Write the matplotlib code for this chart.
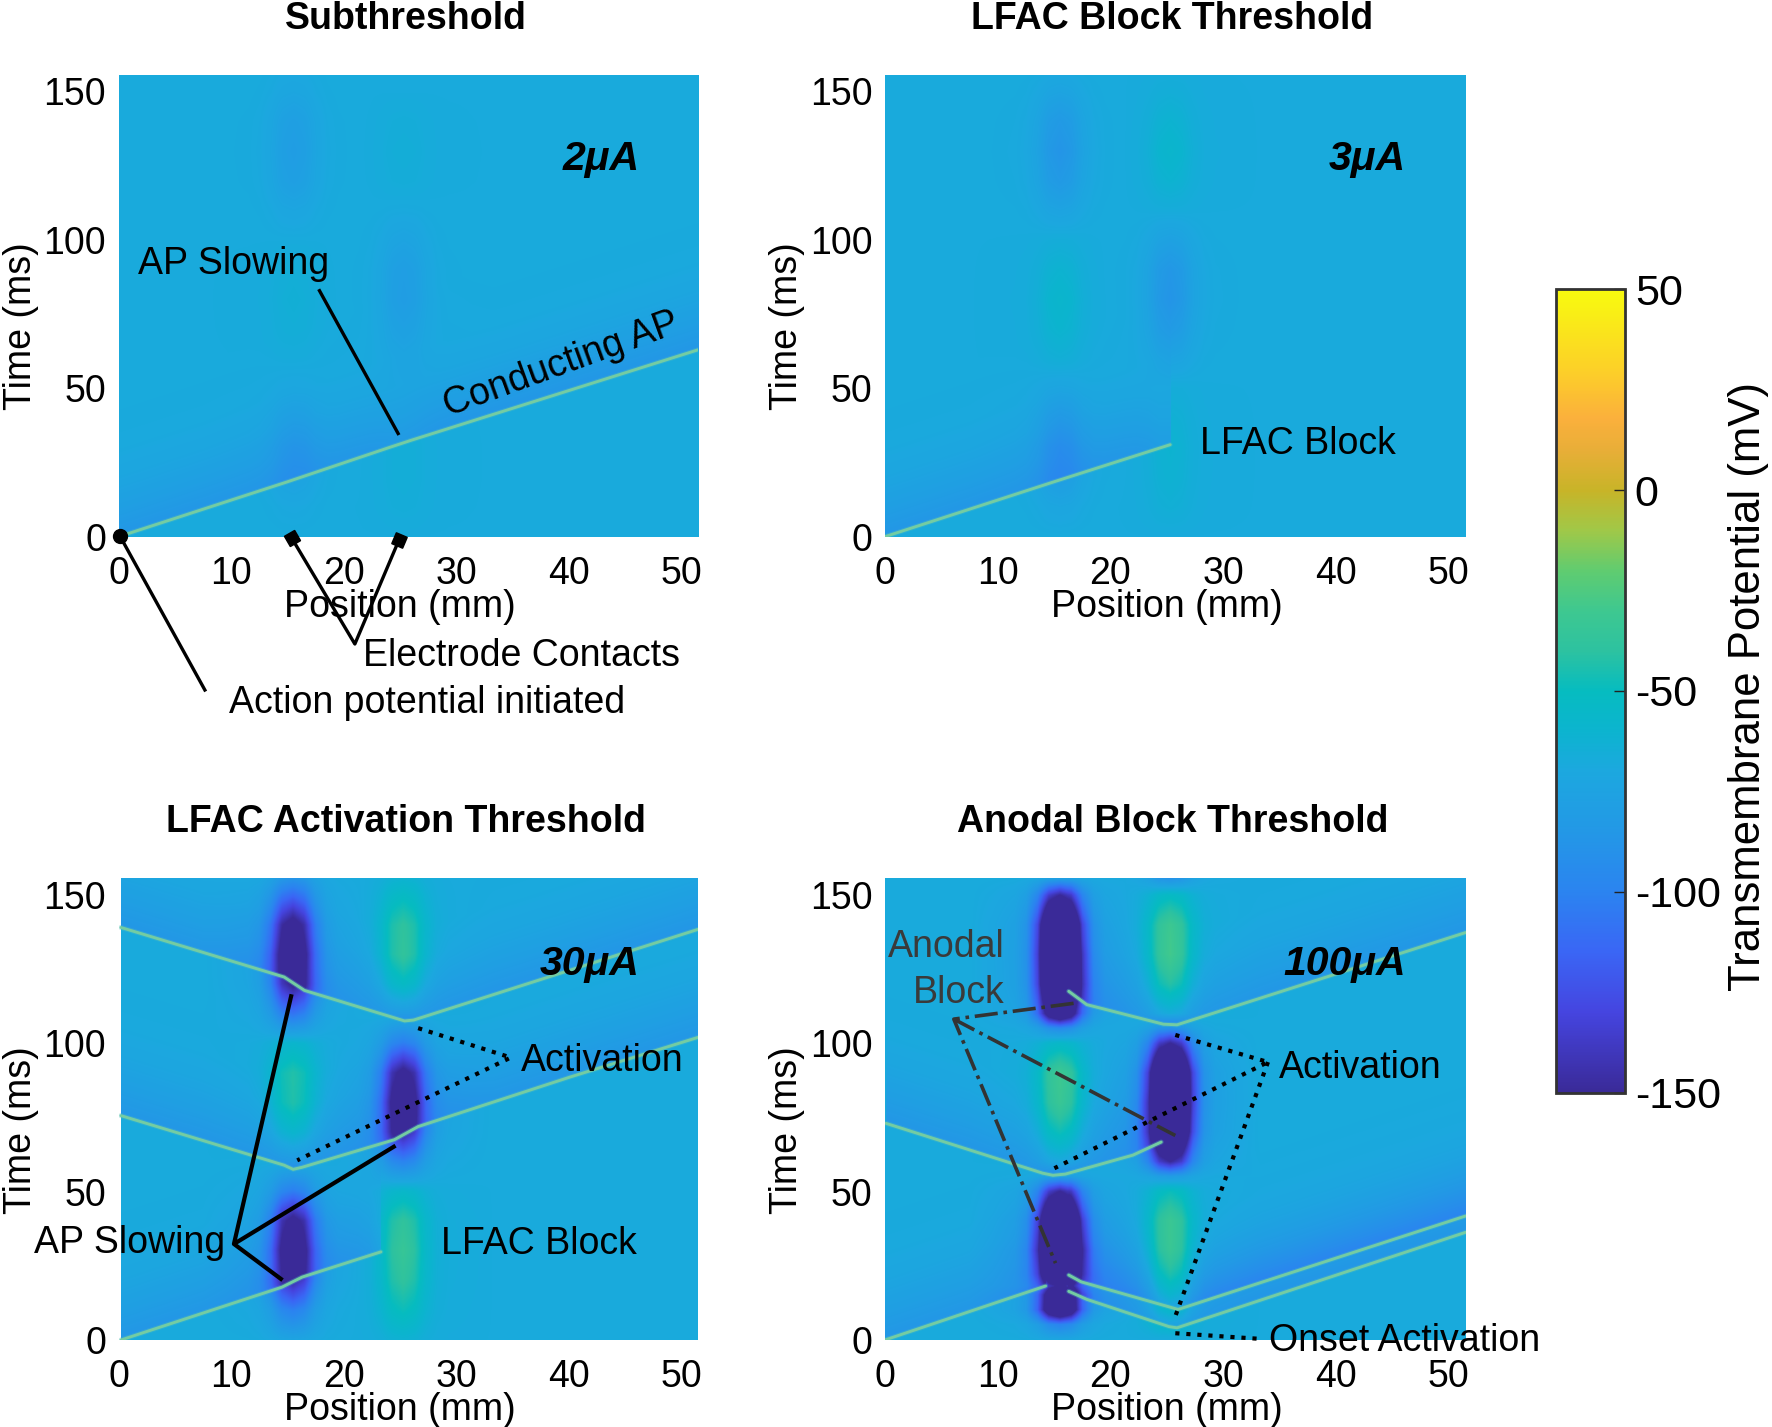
import numpy as np
import matplotlib
matplotlib.use("Agg")
import matplotlib.pyplot as plt
from matplotlib.colors import LinearSegmentedColormap, Normalize

plt.rcParams['font.family'] = ['Liberation Sans', 'DejaVu Sans']

# ---------- values ----------
titles = ["Subthreshold", "LFAC Block Threshold", "LFAC Activation Threshold", "Anodal Block Threshold"]
currents = ["2μA", "3μA", "30μA", "100μA"]
x_ticks = [0, 10, 20, 30, 40, 50]
y_ticks = [0, 50, 100, 150]
cbar_ticks = [-150, -100, -50, 0, 50]
contact_1_mm = 15.5
contact_2_mm = 25.3
rest_mv = -68

# colour scale
cbar_levels = [-150, -130, -115, -100, -85, -70, -60, -50, -40, -30, -20, -10, 0, 10, 18, 30, 50]
cbar_colors = ['#3a2a98', '#4545e0', '#3a66f5', '#2b84f0', '#2398e6', '#1ca8df', '#0cb4cf', '#06bcc0',
               '#2dc2a0', '#3ec890', '#60cc70', '#a0c848', '#c8b428', '#e8ae38', '#fbb03c', '#fcd028', '#f8fb0e']

# share of the contact's potential change left at a distance from it
falloff_mm = [0, 1, 2, 3, 4, 6, 8]
falloff_share = [1.0, 0.82, 0.36, 0.12, 0.05, 0.02, 0.0]

# added potential after an action potential passes
ahp_ms = [0, 5, 10, 20, 30, 50]
ahp_mv = [-18, -14, -10, -4, -1, 0]

# potential under each contact against time
t_knots_a = [0, 10, 20, 30, 40, 50, 60, 70, 80, 90, 100, 110, 120, 130, 140, 150, 156]
sub_c1 = [-68, -70, -75, -78, -75, -70, -67, -65, -64, -65, -68, -72, -78, -80, -78, -72, -70]
sub_c2 = [-68, -66, -65, -65, -66, -68, -72, -76, -80, -79, -74, -69, -66, -65, -66, -68, -68]
blk_c1 = [-68, -72, -80, -84, -80, -72, -64, -60, -58, -61, -66, -74, -83, -87, -83, -74, -70]
blk_c2 = [-68, -64, -62, -61, -63, -66, -74, -82, -87, -85, -76, -67, -61, -58, -61, -65, -67]
act_c1 = [-74, -102, -148, -165, -155, -102, -66, -50, -40, -42, -58, -108, -155, -168, -158, -112, -85]
act_c2 = [-62, -48, -38, -34, -38, -56, -100, -150, -165, -155, -102, -64, -44, -34, -38, -52, -62]
t_knots_b = [0, 5, 10, 15, 18, 22, 30, 40, 50, 55, 60, 70, 80, 90, 100, 105, 110, 120, 130, 140, 150, 156]
ano_c1 = [-72, -100, -200, -195, -155, -205, -250, -235, -150, -78, -55, -40, -30, -30, -55, -95, -190, -240, -250, -235, -150, -72]
ano_c2 = [-68, -55, -42, -35, -32, -29, -26, -30, -48, -80, -150, -230, -250, -240, -150, -90, -52, -34, -26, -30, -52, -92]

# action potential traces: position (mm), time (ms)
sub_traces = [([0, 15, 24, 26, 51.5], [0, 18.5, 30, 32.5, 63])]
blk_traces = [([0, 15, 25.3], [0, 18.5, 31])]
act_traces = [([0.2, 14.5, 16.3, 23.3], [0, 17.8, 21.2, 29.7]),
              ([0.2, 14.7, 15.5, 16.3, 24.5, 26.6, 40.1, 51.5], [75.6, 58.9, 57.5, 58.2, 67.5, 71.9, 88.6, 102]),
              ([0.2, 14.7, 16.5, 25.4, 26.2, 51.5], [139, 122.3, 117.8, 107.5, 107.8, 138.4])]
ano_traces = [([0, 14.25], [0, 18.2]),
              ([16.3, 17.9, 25.2, 25.9, 51.5], [16.4, 13.7, 4.5, 4.1, 36.3]),
              ([16.3, 17.4, 26, 51.5], [21.9, 19.6, 10.3, 41.8]),
              ([0.1, 14, 14.9, 16, 22, 24.5], [73, 56.2, 55.5, 55.9, 62.3, 66.7]),
              ([16.3, 17.9, 24.7, 25.9, 51.5], [117.5, 113, 106.4, 106.2, 137.3])]

panels = [(t_knots_a, sub_c1, sub_c2, sub_traces),
          (t_knots_a, blk_c1, blk_c2, blk_traces),
          (t_knots_a, act_c1, act_c2, act_traces),
          (t_knots_b, ano_c1, ano_c2, ano_traces)]

# ---------- layout ----------
W, H = 1772, 1427
SX, SY = W / 1568, H / 1263
XMAX, YMAX = 51.5, 155.7
boxes = [(105, 66, 618, 475), (783, 66, 1297, 475), (105, 777, 618, 1186), (783, 777, 1297, 1186)]
image_left = [0, 0, 0.25, 0]
FS = 27

fig = plt.figure(figsize=(W / 100, H / 100), dpi=100, facecolor='white')
cmap = LinearSegmentedColormap.from_list(
    'cb', [((v + 150) / 200, c) for v, c in zip(cbar_levels, cbar_colors)], N=512)
norm = Normalize(-150, 50)


def rect(l, t, r, b):
    return [l * SX / W, 1 - b * SY / H, (r - l) * SX / W, (b - t) * SY / H]


def field(t_knots, c1, c2, traces, x0):
    x = np.arange(x0, XMAX + 0.05, 0.1)
    t = np.arange(0, YMAX + 0.25, 0.5)
    X, T = np.meshgrid(x, t)
    v1 = np.interp(T, t_knots, c1)
    v2 = np.interp(T, t_knots, c2)
    f1 = np.interp(np.abs(X - contact_1_mm), falloff_mm, falloff_share)
    f2 = np.interp(np.abs(X - contact_2_mm), falloff_mm, falloff_share)
    V = rest_mv + f1 * (v1 - rest_mv) + f2 * (v2 - rest_mv)
    for pos, tim in traces:
        arrival = np.interp(X, pos, tim)
        dt = T - arrival
        inside = (X >= pos[0]) & (X <= pos[-1]) & (dt >= 0)
        V = V + np.where(inside, np.interp(dt, ahp_ms, ahp_mv), 0)
    return V, x, t


for i, box in enumerate(boxes):
    ax = fig.add_axes(rect(*box))
    t_knots, c1, c2, traces = panels[i]
    V, x, t = field(t_knots, c1, c2, traces, image_left[i])
    ax.imshow(V, origin='lower', extent=[x[0], x[-1], t[0], t[-1]], aspect='auto', cmap=cmap, norm=norm,
              interpolation='bilinear', interpolation_stage='data')
    for pos, tim in traces:
        ax.plot(pos, tim, color='#4fbfc0', lw=3.6, alpha=0.35, solid_capstyle='round', zorder=2)
        ax.plot(pos, tim, color='#74cca2', lw=2.1, solid_capstyle='round', zorder=3)
    ax.set_xlim(0, XMAX)
    ax.set_ylim(0, YMAX)
    for s in ax.spines.values():
        s.set_visible(False)
    ax.set_xticks(x_ticks)
    ax.set_yticks(y_ticks)
    ax.tick_params(length=0, labelsize=FS)
    ax.tick_params(axis='x', pad=14)
    ax.tick_params(axis='y', pad=9)
    ax.set_xlabel("Position (mm)", fontsize=FS, va='center')
    ax.xaxis.set_label_coords(0.485, -0.152)
    ax.set_ylabel("Time (ms)", fontsize=FS, va='center')
    ax.yaxis.set_label_coords(-0.168, 0.455)
    ax.set_title(titles[i], fontsize=FS, fontweight='bold', y=1.121, x=0.495, va='center', pad=0)

# colour bar
cax = fig.add_axes(rect(1377, 256, 1438, 967))
sm = plt.cm.ScalarMappable(norm=norm, cmap=cmap)
cb = fig.colorbar(sm, cax=cax)
cb.set_ticks(cbar_ticks)
cb.set_ticklabels([str(v) for v in cbar_ticks])
cb.ax.tick_params(direction='in', length=8, width=1, labelsize=31, pad=7, color='#222222')
cb.outline.set_edgecolor('#333333')
cb.outline.set_linewidth(2)

# annotation layer, in the shrunk reference's pixel coordinates
ov = fig.add_axes([0, 0, 1, 1], facecolor='none')
ov.set_xlim(0, 1568)
ov.set_ylim(1263, 0)
ov.axis('off')
ov.text(1547, 608, "Transmembrane Potential (mV)", fontsize=31.5, rotation=90, ha='center', va='center')


def label(x, y, s, ha='left', **kw):
    ov.text(x, y + 3, s, fontsize=kw.pop('fontsize', FS), ha=ha, va='center', **kw)


def seg(xs, ys, ls='-', color='black', lw=2.4):
    ov.plot(xs, ys, ls=ls, color=color, lw=lw, solid_capstyle='butt')


for (x, y, s) in [(566, 138, currents[0]), (1244, 138, currents[1]), (566, 850, currents[2]), (1244, 850, currents[3])]:
    label(x, y, s, ha='right', fontsize=29.5, fontweight='bold', style='italic')

# panel 1
label(122, 231, "AP Slowing")
seg([282, 353], [256, 385])
label(497, 320, "Conducting AP", ha='center', rotation=20)
ov.plot([106], [474], 'o', color='black', ms=10)
seg([107, 182], [476, 612])
label(203, 619, "Action potential initiated")
seg([258, 314, 353], [476, 570, 478])
ov.plot([258], [476], marker=(4, 0, 75), color='black', ms=12, ls='none')
ov.plot([353], [478], marker=(4, 0, 22), color='black', ms=12, ls='none')
label(321, 578, "Electrode Contacts")
# panel 2
label(1062, 390, "LFAC Block")
# panel 3
label(461, 936, "Activation")
seg([370, 452, 263], [910, 936, 1027], ls=':', lw=3)
label(390, 1098, "LFAC Block")
label(30, 1097, "AP Slowing")
seg([258, 207, 350], [880, 1101, 1014], lw=3)
seg([207, 250], [1101, 1133], lw=3)
# panel 4
label(889, 835, "Anodal", ha='right', color='#3a3a3a')
label(889, 876, "Block", ha='right', color='#3a3a3a')
seg([950, 844, 934], [888, 902, 1118], ls='-.', color='#333333', lw=2.6)
seg([844, 1040], [902, 1005], ls='-.', color='#333333', lw=2.6)
label(1132, 942, "Activation")
seg([1040, 1122, 933], [916, 940, 1034], ls=':', lw=3)
seg([1122, 1040], [940, 1165], ls=':', lw=3)
label(1123, 1184, "Onset Activation")
seg([1040, 1115], [1180, 1185], ls=':', lw=3)

fig.savefig("out.png", dpi=100, facecolor='white')
